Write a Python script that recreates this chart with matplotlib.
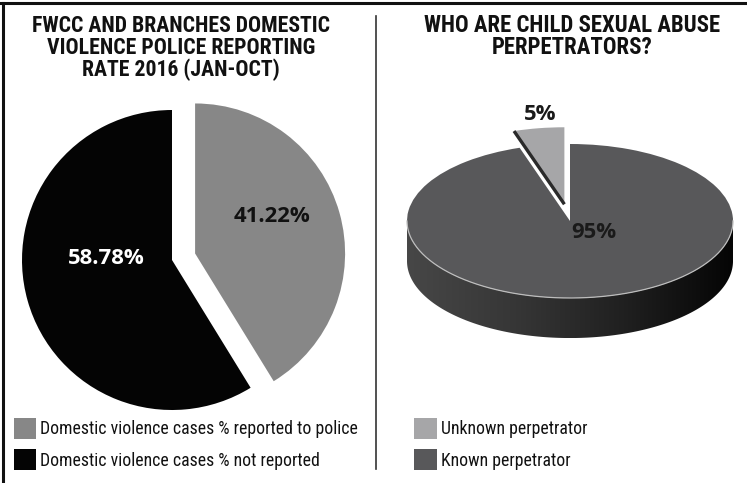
import numpy as np
import matplotlib
matplotlib.use("Agg")
import matplotlib.pyplot as plt
import matplotlib.font_manager as fm
from matplotlib.patches import Rectangle, Polygon
from matplotlib.colors import LinearSegmentedColormap

# ---------------- data ----------------
left_title = ["FWCC AND BRANCHES DOMESTIC", "VIOLENCE POLICE REPORTING", "RATE 2016 (JAN-OCT)"]
left_labels = ["Domestic violence cases % reported to police",
               "Domestic violence cases % not reported"]
left_values = [41.22, 58.78]
left_colors = ["#878787", "#040404"]
left_text_colors = ["#111111", "#ffffff"]

right_title = ["WHO ARE CHILD SEXUAL ABUSE", "PERPETRATORS?"]
right_labels = ["Unknown perpetrator", "Known perpetrator"]
right_values = [5, 95]
right_colors = ["#a6a6a8", "#58585a"]

W, H = 747, 483
fig = plt.figure(figsize=(W / 100, H / 100), dpi=100)
fig.patch.set_facecolor("white")
renderer = fig.canvas.get_renderer()


def fx(x):
    return x / W


def fy(y):
    return 1 - y / H


# pick a narrow font if one is installed
names = {f.name for f in fm.fontManager.ttflist}
FONT = dict(family=["Roboto", "DejaVu Sans"])
for cand in ["Liberation Sans Narrow", "Roboto Condensed", "Open Sans Condensed"]:
    if cand in names:
        FONT = dict(family=[cand, "DejaVu Sans"])
        break
else:
    for f in fm.fontManager.ttflist:
        st = f.stretch
        if f.name == "DejaVu Sans" and (str(st) in ("condensed", "semi-condensed")
                                        or (isinstance(st, (int, float)) and st < 500)):
            FONT = dict(family=["DejaVu Sans"], fontstretch="condensed")
            break

LABEL_FONT = dict(family=["Open Sans", "Noto Sans", "DejaVu Sans"], fontweight="bold")


def fit_block(texts, widths):
    scale = min(widths[i] / texts[i].get_window_extent(renderer).width
                for i in range(len(texts)))
    for t in texts:
        t.set_fontsize(t.get_fontsize() * scale)


# ---------------- frame ----------------
fig.add_artist(plt.Line2D([0, 1], [fy(3), fy(3)], color="#111111", lw=2.2))
fig.add_artist(plt.Line2D([fx(3), fx(3)], [fy(3), 0], color="#111111", lw=2.2))
fig.add_artist(plt.Line2D([fx(376), fx(376)], [fy(16), fy(469)], color="#333333", lw=1.2))

# ---------------- titles ----------------
def title(lines, xc, ys, widths):
    ts = [fig.text(fx(xc), fy(y), s, ha="center", va="center", fontsize=15,
                   fontweight="bold", color="#111111", **FONT)
          for s, y in zip(lines, ys)]
    fit_block(ts, widths)

title(left_title, 181, [26, 48, 70], [331, 299, 199])
title(right_title, 572, [26, 48], [321, 161])

# ---------------- left pie ----------------
axL = fig.add_axes([0, 0, 1, 1])
cx, cy, r = 172, H - 260, 150
wedges, _ = axL.pie(left_values, colors=left_colors, startangle=90, counterclock=False,
                    center=(cx, cy), radius=r, explode=[24, 0],
                    wedgeprops=dict(linewidth=0))
axL.set_aspect("auto")
axL.set_xlim(0, W)
axL.set_ylim(0, H)
axL.axis("off")
t1 = axL.text(272, H - 216, f"{left_values[0]:.2f}%", ha="center", va="center",
              fontsize=14, color=left_text_colors[0], **LABEL_FONT)
t2 = axL.text(106, H - 259, f"{left_values[1]:.2f}%", ha="center", va="center",
              fontsize=14, color=left_text_colors[1], **LABEL_FONT)
fit_block([t1], [77])
t2.set_fontsize(t1.get_fontsize())

# ---------------- right 3D-like pie ----------------
rx, ry = 163, 77
pcy_img = 221
pcx, pcy = 570, H - pcy_img
xl = (-1.1, 1.1)
yl = (-1.7, 1.5)
axR = fig.add_axes([fx(pcx + xl[0] * rx), (pcy + yl[0] * ry) / H,
                    (xl[1] - xl[0]) * rx / W, (yl[1] - yl[0]) * ry / H])
depth = 0.52

# side wall (front half of the cylinder)
t = np.linspace(np.pi, 2 * np.pi, 200)
top = np.column_stack([np.cos(t), np.sin(t)])
bot = np.column_stack([np.cos(t[::-1]), np.sin(t[::-1]) - depth])
side = Polygon(np.vstack([top, bot]), closed=True, facecolor="none", edgecolor="none")
axR.add_patch(side)
cmap = LinearSegmentedColormap.from_list("side", ["#474747", "#363636", "#202020", "#050505"])
grad = np.linspace(0, 1, 256).reshape(1, -1)
im = axR.imshow(grad, extent=(-1, 1, -1 - depth, 0), aspect="auto", cmap=cmap,
                zorder=0.5)
im.set_clip_path(side)

rw, _ = axR.pie(right_values, colors=right_colors, startangle=90, counterclock=True,
                explode=[0.22, 0], radius=1, wedgeprops=dict(linewidth=0))
for w in rw:
    w.set_zorder(2)
# thin rim highlight along front edge
axR.plot(np.cos(t), np.sin(t), color="#bdbdbd", lw=0.9, zorder=3)
# dark cut face of the exploded slice
a = np.deg2rad(90 + 360 * right_values[0] / 100)
am = np.deg2rad(90 + 180 * right_values[0] / 100)
ex, ey = 0.22 * np.cos(am), 0.22 * np.sin(am)
axR.plot([ex, ex + np.cos(a)], [ey, ey + np.sin(a)], color="#2a2a2a", lw=2.4,
         zorder=3, solid_capstyle="butt")

axR.set_aspect("auto")
axR.set_xlim(*xl)
axR.set_ylim(*yl)
axR.axis("off")
t3 = axR.text((594 - pcx) / rx, (pcy_img - 232) / ry, f"{right_values[1]}%", ha="center",
              va="center", fontsize=14, color="#1a1a1a", zorder=5, **LABEL_FONT)
t4 = axR.text((540 - pcx) / rx, (pcy_img - 115) / ry, f"{right_values[0]}%", ha="center",
              va="center", fontsize=14, color="#1a1a1a", zorder=5, **LABEL_FONT)
t3.set_fontsize(t1.get_fontsize())
t4.set_fontsize(t1.get_fontsize())

# ---------------- legends ----------------
def legend(x0, y0, labels, colors, w=22, h=21, pitch=31):
    ts = []
    for i, (lab, col) in enumerate(zip(labels, colors)):
        ytop = y0 + i * pitch
        fig.add_artist(Rectangle((fx(x0), fy(ytop + h)), w / W, h / H,
                                 facecolor=col, edgecolor="none"))
        ts.append(fig.text(fx(x0 + w + 4), fy(ytop + h / 2 + 1), lab, ha="left",
                           va="center", fontsize=12, color="#111111", **FONT))
    return ts

lt = legend(14, 418, left_labels, left_colors)
rt = legend(414, 418, right_labels, right_colors, w=23)
fit_block([lt[0]], [317])
for t_ in lt[1:] + rt:
    t_.set_fontsize(lt[0].get_fontsize())

fig.savefig("out.png", dpi=100)
